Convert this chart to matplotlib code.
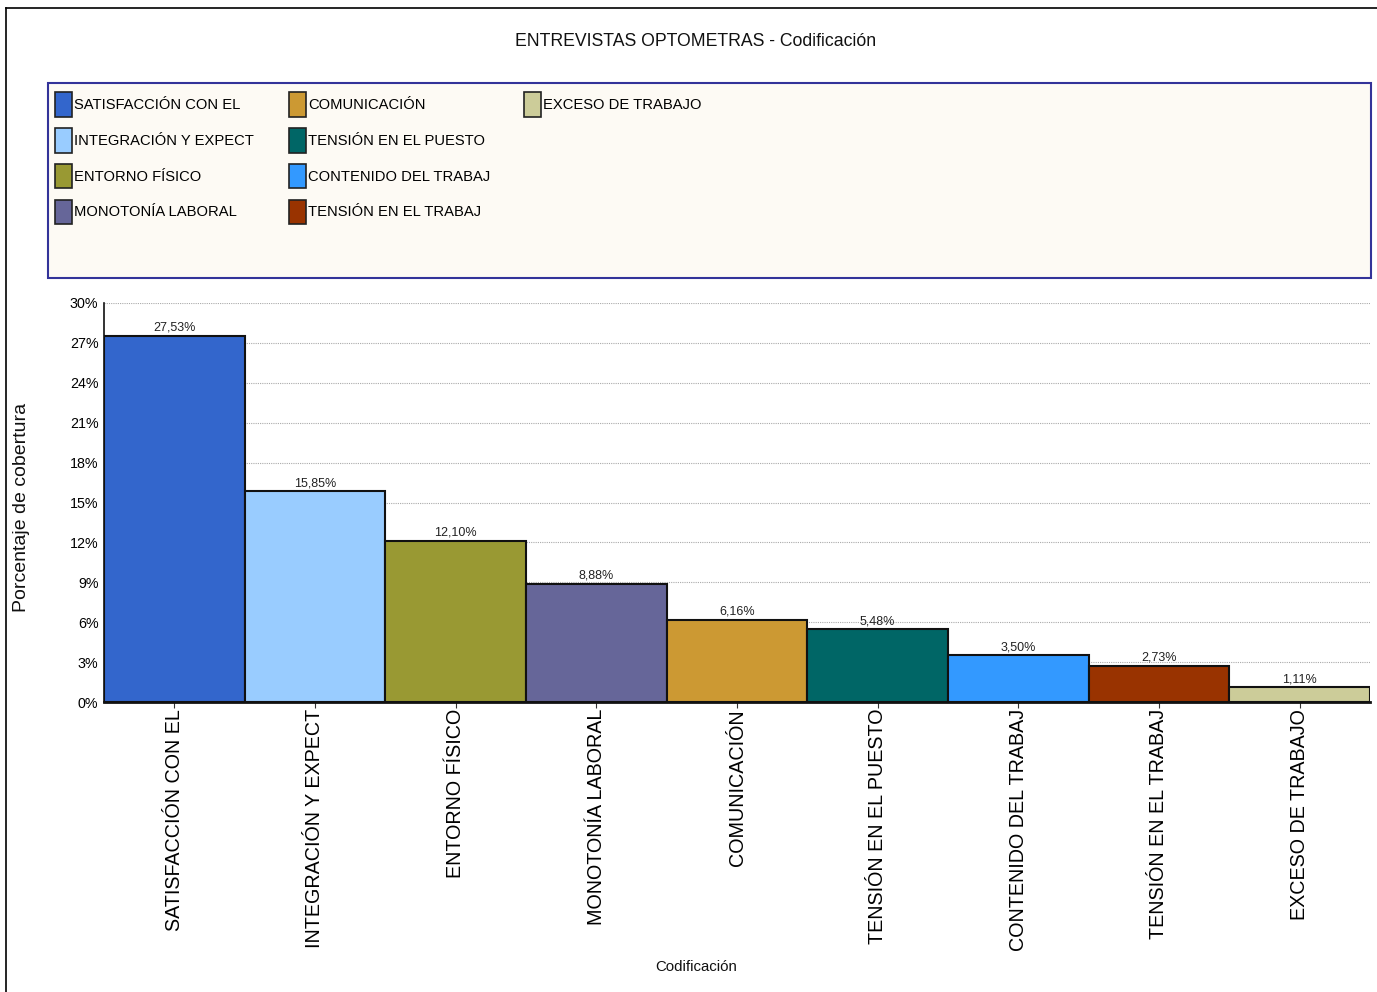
import matplotlib
matplotlib.use("Agg")
import matplotlib.pyplot as plt
from matplotlib.patches import Patch, Rectangle
from matplotlib.lines import Line2D
from matplotlib.ticker import FuncFormatter, MultipleLocator

categories = ["SATISFACCIÓN CON EL", "INTEGRACIÓN Y EXPECT", "ENTORNO FÍSICO",
              "MONOTONÍA LABORAL", "COMUNICACIÓN", "TENSIÓN EN EL PUESTO",
              "CONTENIDO DEL TRABAJ", "TENSIÓN EN EL TRABAJ", "EXCESO DE TRABAJO"]
values = [27.53, 15.85, 12.10, 8.88, 6.16, 5.48, 3.50, 2.73, 1.11]
value_labels = ["27,53%", "15,85%", "12,10%", "8,88%", "6,16%", "5,48%", "3,50%", "2,73%", "1,11%"]
colors = ["#3366CC", "#99CCFF", "#999933", "#666699", "#CC9933",
          "#006666", "#3399FF", "#993300", "#CCCC99"]

REG = ["Liberation Sans", "DejaVu Sans"]

fig = plt.figure(figsize=(13.77, 9.92), dpi=100)
W, H = 1377, 992

def fx(px):
    return px / W

def fy(py):
    return 1 - py / H

# outer frame (top and left)
fig.add_artist(Line2D([fx(6), fx(1377)], [fy(8), fy(8)], color="black", lw=1.2, transform=fig.transFigure))
fig.add_artist(Line2D([fx(6), fx(6)], [fy(8), fy(992)], color="black", lw=1.2, transform=fig.transFigure))

fig.text(fx(696), fy(42), "ENTREVISTAS OPTOMETRAS - Codificación", ha="center", va="center",
         fontsize=12.7, family=REG, color="#111111")

# legend box
fig.add_artist(Rectangle((fx(48), fy(278)), fx(1371) - fx(48), fy(83) - fy(278),
                         transform=fig.transFigure, facecolor="#FDFAF4", edgecolor="#333399", lw=1.5))

col_x = [55, 289, 524]
for k, cx in enumerate(col_x):
    cats = categories[4 * k:4 * k + 4]
    cols = colors[4 * k:4 * k + 4]
    handles = [Patch(facecolor=c, edgecolor="#222222", lw=1.2) for c in cols]
    fig.legend(handles, cats, ncol=1, loc="upper left", bbox_to_anchor=(fx(cx), fy(92)),
               frameon=False, prop={"family": REG, "size": 10.6}, handlelength=1.15, handleheight=2.2,
               handletextpad=0.15, labelspacing=0.76, borderaxespad=0, borderpad=0)

ax = fig.add_axes([fx(104), fy(702), fx(1370) - fx(104), fy(303) - fy(702)])
x = list(range(len(categories)))
ax.bar(x, values, width=1.0, color=colors, edgecolor="#111111", linewidth=1.5, zorder=3)
ax.set_xlim(-0.5, len(categories) - 0.5)
ax.set_ylim(0, 30)
ax.yaxis.set_major_locator(MultipleLocator(3))
ax.yaxis.set_major_formatter(FuncFormatter(lambda v, p: f"{int(round(v))}%"))
ax.grid(axis="y", color="#aaaaaa", linestyle=(0, (1, 1)), linewidth=0.8, zorder=0)
for s in ["top", "right"]:
    ax.spines[s].set_visible(False)
ax.spines["left"].set_color("#111111")
ax.spines["bottom"].set_color("#111111")
ax.spines["bottom"].set_linewidth(2)
ax.spines["left"].set_linewidth(1.2)
ax.tick_params(axis="y", length=0, labelsize=10.3, pad=4)
for lbl in ax.get_yticklabels():
    lbl.set_family(REG)
ax.set_xticks(x)
ax.set_xticklabels(categories, rotation=90, fontsize=14.2, family=REG, va="top", ha="center")
ax.tick_params(axis="x", length=4, pad=1, color="#333333")

for xi, v, t in zip(x, values, value_labels):
    ax.annotate(t, (xi, v), xytext=(0, 1.5), textcoords="offset points", ha="center", va="bottom",
                fontsize=9, family=REG, color="#222222", zorder=4)

fig.text(fx(22), fy(507), "Porcentaje de cobertura", rotation=90, ha="center", va="center",
         fontsize=14, family=REG, color="#111111")
fig.text(fx(696), fy(967), "Codificación", ha="center", va="center", fontsize=10.8, family=REG,
         color="#111111")

fig.savefig("out.png", dpi=100, facecolor="white")
